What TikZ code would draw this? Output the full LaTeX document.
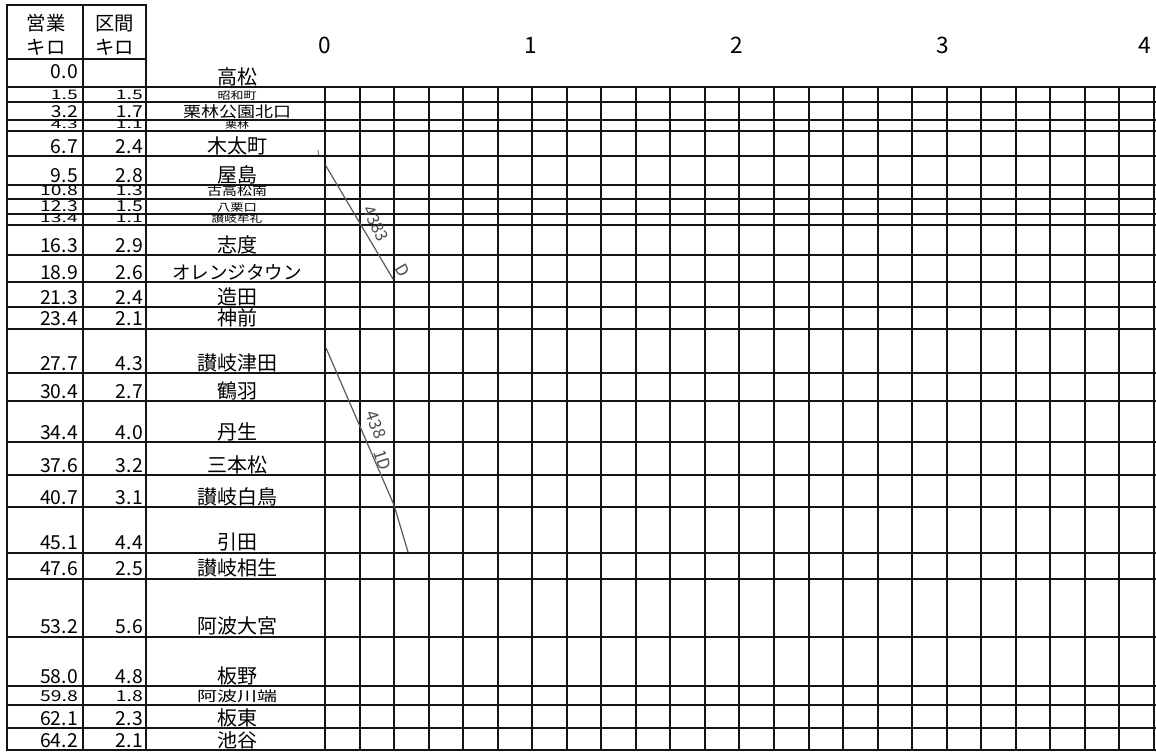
\documentclass[tikz,border=0pt]{standalone}
\usepackage{fontspec}
\setmainfont{Noto Sans CJK JP}
\usepackage{graphicx}
\begin{document}
\begin{tikzpicture}[x=0.75pt,y=-0.75pt,
  gl/.style={line width=1.5pt, black!92, line cap=rect},
  pencil/.style={line width=0.9pt, black!65, line cap=round},
  numtxt/.style={font=\fontsize{14.5}{15}\selectfont, anchor=base east, inner sep=0pt},
  nametxt/.style={anchor=base, inner sep=0pt},
  hourtxt/.style={font=\fontsize{17}{18}\selectfont, anchor=base, inner sep=0pt},
  headtxt/.style={font=\fontsize{14.5}{15}\selectfont, anchor=base, inner sep=0pt},
  handtxt/.style={font=\fontsize{12.5}{13}\selectfont, black!70, inner sep=0pt}]
\useasboundingbox (0,0) rectangle (1156,753);
\fill[white] (0,0) rectangle (1156,753);

% grid verticals
\foreach \k in {0,...,24} {
  \pgfmathsetmacro\xx{round(325+\k*34.54)}
  \draw[gl] (\xx,87) -- (\xx,750);
}
% table verticals
\draw[gl] (7,5) -- (7,750);
\draw[gl] (83,5) -- (83,750);
\draw[gl] (146,5) -- (146,750);
% header box lines
\draw[gl] (7,5) -- (146,5);
\draw[gl] (7,59) -- (146,59);
% station lines
\foreach \d in {0,1.5,3.2,4.3,6.7,9.5,10.8,12.3,13.4,16.3,18.9,21.3,23.4,27.7,30.4,34.4,37.6,40.7,45.1,47.6,53.2,58.0,59.8,62.1,64.2} {
  \pgfmathsetmacro\ly{round(87+\d*10.33)}
  \draw[gl] (7,\ly) -- (1156,\ly);
}

% header
\node[headtxt] (hA1) at (46,30) {営業};
\node[headtxt] (hA2) at (46,54) {キロ};
\node[headtxt] (hB1) at (114.5,30) {区間};
\node[headtxt] (hB2) at (114.5,54) {キロ};

% hour labels
\node[hourtxt] (h0) at (325,53) {0};
\node[hourtxt] (h1) at (531,53) {1};
\node[hourtxt] (h2) at (737,53) {2};
\node[hourtxt] (h3) at (943,53) {3};
\node[hourtxt] (h4) at (1145,53) {4};

% first station
\node[numtxt] (e0) at (78,78) {0.0};
\node[nametxt, font=\fontsize{15}{15}\selectfont] (s0) at (237,84) {高松};

% stations
\foreach \d/\iv/\nm/\nf/\ny/\ky [count=\i] in {
  1.5/1.5/昭和町/9.75/0.8/0.68,
  3.2/1.7/栗林公園北口/13.5/0.85/0.85,
  4.3/1.1/栗林/9/0.8/0.58,
  6.7/2.4/木太町/15/1/1,
  9.5/2.8/屋島/15/1/1,
  10.8/1.3/古高松南/11.25/0.8/0.72,
  12.3/1.5/八栗口/10/0.8/0.78,
  13.4/1.1/讃岐牟礼/9.5/0.8/0.62,
  16.3/2.9/志度/15/1/1,
  18.9/2.6/オレンジタウン/13.9/1/1,
  21.3/2.4/造田/15/1/1,
  23.4/2.1/神前/15/1/1,
  27.7/4.3/讃岐津田/15/1/1,
  30.4/2.7/鶴羽/15/1/1,
  34.4/4.0/丹生/15/1/1,
  37.6/3.2/三本松/15/1/1,
  40.7/3.1/讃岐白鳥/15/1/1,
  45.1/4.4/引田/15/1/1,
  47.6/2.5/讃岐相生/15/1/1,
  53.2/5.6/阿波大宮/15/1/1,
  58.0/4.8/板野/15/1/1,
  59.8/1.8/阿波川端/15/0.7/0.78,
  62.1/2.3/板東/15/1/1,
  64.2/2.1/池谷/15/0.95/1}
{
  \pgfmathsetmacro\yy{87+\d*10.33-3}
  \node[numtxt] (e\i) at (78,\yy) {\scalebox{1}[\ky]{\d}};
  \node[numtxt] (k\i) at (143,\yy) {\scalebox{1}[\ky]{\iv}};
  \node[nametxt, font=\fontsize{\nf}{\nf}\selectfont] (s\i) at (237,\yy) {\scalebox{1}[\ny]{\nm}};
}

% pencil train lines
\coordinate (m1) at (318,150);
\coordinate (m2) at (318.5,155);
\draw[pencil, line width=0.6pt] (m1) -- (m2);
\coordinate (a1) at (326,166);
\coordinate (a2) at (393,279);
\draw[pencil] (a1) -- (a2);
\node[handtxt, rotate=-64] (ta) at (376,224) {4383};
\node[handtxt, rotate=-60] (tad) at (403,270) {D};
\coordinate (b1) at (326,348);
\coordinate (b2) at (394,505);
\coordinate (b3) at (408,552);
\draw[pencil] (b1) -- (b2) -- (b3);
\node[handtxt, rotate=-70] (tb) at (376,425) {438};
\node[handtxt, rotate=-72] (tbd) at (383,460) {1D};
\end{tikzpicture}
\end{document}
